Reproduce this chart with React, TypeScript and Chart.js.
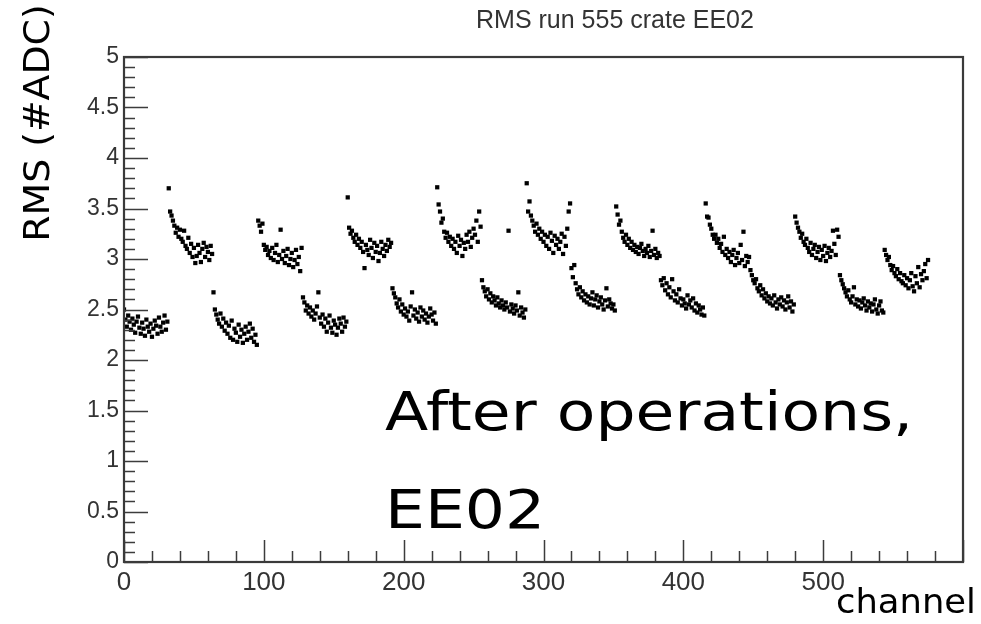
import React, { useEffect, useRef } from 'react';
import { Chart, registerables } from 'chart.js';

Chart.register(...registerables);

// RMS per channel, one array per 32-channel block (channels 0..575)
const g00 = [2.50, 2.40, 2.33, 2.44, 2.38, 2.30, 2.41, 2.35, 2.27, 2.38, 2.43, 2.32, 2.26, 2.37, 2.31, 2.24, 2.40, 2.33, 2.28, 2.36, 2.23, 2.31, 2.39, 2.34, 2.26, 2.42, 2.33, 2.28, 2.37, 2.44, 2.30, 2.38];
const g01 = [3.70, 3.47, 3.43, 3.38, 3.33, 3.26, 3.31, 3.22, 3.29, 3.20, 3.17, 3.28, 3.13, 3.10, 3.21, 3.06, 3.15, 3.02, 3.11, 2.96, 3.03, 3.14, 3.06, 2.97, 3.10, 3.16, 3.02, 3.12, 3.07, 2.99, 3.13, 3.05];
const g02 = [2.67, 2.50, 2.45, 2.40, 2.36, 2.46, 2.33, 2.41, 2.29, 2.37, 2.26, 2.34, 2.22, 2.39, 2.20, 2.31, 2.27, 2.18, 2.35, 2.23, 2.30, 2.17, 2.26, 2.33, 2.20, 2.28, 2.36, 2.22, 2.31, 2.18, 2.25, 2.15];
const g03 = [3.38, 3.33, 3.27, 3.35, 3.14, 3.09, 3.12, 3.04, 3.08, 3.01, 3.11, 2.99, 3.06, 3.14, 2.97, 3.04, 3.29, 3.00, 3.08, 2.96, 3.03, 3.10, 2.94, 3.00, 3.06, 2.92, 2.99, 3.09, 2.95, 3.02, 2.88, 3.11];
const g04 = [2.62, 2.57, 2.49, 2.54, 2.46, 2.52, 2.43, 2.49, 2.40, 2.46, 2.53, 2.67, 2.42, 2.36, 2.45, 2.33, 2.41, 2.28, 2.37, 2.44, 2.32, 2.27, 2.39, 2.35, 2.25, 2.32, 2.41, 2.36, 2.28, 2.42, 2.33, 2.38];
const g05 = [3.61, 3.31, 3.25, 3.28, 3.21, 3.17, 3.24, 3.14, 3.20, 3.11, 3.17, 3.07, 2.91, 3.14, 3.09, 3.04, 3.19, 3.11, 3.01, 3.16, 3.07, 3.13, 2.98, 3.06, 3.17, 3.10, 3.03, 3.14, 3.08, 3.19, 3.12, 3.16];
const g06 = [2.71, 2.66, 2.62, 2.56, 2.52, 2.60, 2.48, 2.55, 2.45, 2.51, 2.43, 2.48, 2.39, 2.53, 2.67, 2.44, 2.50, 2.41, 2.47, 2.38, 2.52, 2.43, 2.49, 2.40, 2.46, 2.37, 2.43, 2.51, 2.45, 2.39, 2.47, 2.36];
const g07 = [3.71, 3.54, 3.47, 3.36, 3.40, 3.27, 3.21, 3.26, 3.17, 3.22, 3.13, 3.20, 3.10, 3.17, 3.06, 3.23, 3.13, 3.19, 3.03, 3.16, 3.10, 3.24, 3.17, 3.27, 3.12, 3.21, 3.30, 3.24, 3.38, 3.17, 3.47, 3.32];
const g08 = [2.79, 2.72, 2.68, 2.63, 2.70, 2.60, 2.66, 2.57, 2.63, 2.59, 2.54, 2.62, 2.56, 2.52, 2.59, 2.54, 2.50, 2.57, 2.52, 3.28, 2.48, 2.55, 2.51, 2.46, 2.54, 2.49, 2.67, 2.44, 2.52, 2.47, 2.42, 2.50];
const g09 = [3.75, 3.47, 3.57, 3.43, 3.38, 3.33, 3.27, 3.35, 3.24, 3.30, 3.20, 3.27, 3.17, 3.24, 3.13, 3.22, 3.10, 3.26, 3.18, 3.06, 3.23, 3.14, 3.20, 3.10, 3.17, 3.25, 3.05, 3.22, 3.13, 3.30, 3.47, 3.55];
const g10 = [2.91, 2.82, 2.94, 2.76, 2.70, 2.65, 2.72, 2.62, 2.68, 2.59, 2.65, 2.57, 2.63, 2.55, 2.61, 2.67, 2.54, 2.60, 2.64, 2.52, 2.58, 2.62, 2.55, 2.50, 2.59, 2.71, 2.53, 2.60, 2.56, 2.51, 2.55, 2.49];
const g11 = [3.52, 3.44, 3.34, 3.38, 3.27, 3.21, 3.17, 3.24, 3.14, 3.20, 3.11, 3.17, 3.09, 3.14, 3.07, 3.12, 3.05, 3.11, 3.15, 3.08, 3.03, 3.10, 3.06, 3.13, 3.02, 3.08, 3.28, 3.04, 3.10, 3.01, 3.06, 3.03];
const g12 = [2.79, 2.74, 2.81, 2.69, 2.76, 2.65, 2.72, 2.62, 2.80, 2.68, 2.59, 2.65, 2.57, 2.70, 2.61, 2.54, 2.60, 2.56, 2.51, 2.64, 2.55, 2.59, 2.52, 2.61, 2.49, 2.56, 2.47, 2.54, 2.50, 2.45, 2.52, 2.44];
const g13 = [3.55, 3.42, 3.41, 3.34, 3.30, 3.24, 3.20, 3.24, 3.16, 3.20, 3.11, 3.15, 3.07, 3.22, 3.04, 3.10, 3.01, 3.07, 2.97, 3.04, 3.09, 2.94, 3.01, 3.06, 2.96, 3.14, 2.99, 3.27, 2.93, 3.03, 2.97, 3.02];
const g14 = [2.89, 2.84, 2.79, 2.76, 2.80, 2.71, 2.68, 2.74, 2.64, 2.70, 2.61, 2.66, 2.58, 2.63, 2.56, 2.61, 2.54, 2.64, 2.57, 2.51, 2.60, 2.55, 2.62, 2.53, 2.59, 2.50, 2.57, 2.63, 2.52, 2.58, 2.48, 2.55];
const g15 = [3.42, 3.36, 3.31, 3.27, 3.21, 3.25, 3.17, 3.14, 3.20, 3.11, 3.07, 3.16, 3.04, 3.10, 3.14, 3.01, 3.07, 3.12, 2.99, 3.09, 3.03, 3.13, 2.98, 3.06, 3.11, 3.02, 3.08, 3.28, 3.15, 3.04, 3.29, 3.22];
const g16 = [2.84, 2.79, 2.75, 2.71, 2.67, 2.63, 2.69, 2.60, 2.57, 2.63, 2.72, 2.55, 2.60, 2.53, 2.59, 2.51, 2.57, 2.61, 2.54, 2.49, 2.58, 2.52, 2.56, 2.48, 2.55, 2.60, 2.50, 2.46, 2.54, 2.58, 2.49, 2.47];
const g17 = [3.09, 3.04, 2.99, 3.02, 2.94, 2.89, 2.93, 2.86, 2.83, 2.90, 2.80, 2.86, 2.78, 2.76, 2.84, 2.74, 2.81, 2.71, 2.79, 2.86, 2.73, 2.68, 2.83, 2.76, 2.92, 2.72, 2.85, 2.79, 2.88, 2.95, 2.81, 2.99];

const blocks = [g00, g01, g02, g03, g04, g05, g06, g07, g08, g09, g10, g11, g12, g13, g14, g15, g16, g17];

const xTickLabels = ['0', '100', '200', '300', '400', '500'];
const yTickLabels = ['0', '0.5', '1', '1.5', '2', '2.5', '3', '3.5', '4', '4.5', '5'];

const titleText = 'RMS run 555 crate EE02';
const yTitleText = 'RMS (#ADC)';
const xTitleText = 'channel';
const noteLines = ['After operations,', 'EE02'];

const X_MIN = 0;
const X_MAX = 600;
const Y_MIN = 0;
const Y_MAX = 5;

const W = 981;
const H = 624;

const handFont = '"DejaVu Sans", "Noto Sans", sans-serif';
const axisFont = '"Liberation Sans", Arial, sans-serif';

function stretchedText(ctx: any, text: string, x: number, y: number, sx: number) {
  ctx.save();
  ctx.translate(x, y);
  ctx.scale(sx, 1);
  ctx.fillText(text, 0, 0);
  ctx.restore();
}

const rootFrame = {
  id: 'rootFrame',
  afterDraw(chart: any) {
    const { ctx, chartArea: a, scales } = chart;
    const xs = scales.x;
    const ys = scales.y;
    ctx.save();
    // ticks
    ctx.strokeStyle = '#3c3c3c';
    ctx.lineWidth = 1.5;
    ctx.beginPath();
    for (let i = 0; i <= 50; i++) {
      const v = Y_MIN + i * 0.1;
      const py = Math.round(ys.getPixelForValue(v)) + 0.5;
      const len = i % 5 === 0 ? 24 : 11;
      ctx.moveTo(a.left, py);
      ctx.lineTo(a.left + len, py);
    }
    for (let c = X_MIN; c <= X_MAX; c += 20) {
      const px = Math.round(xs.getPixelForValue(c)) + 0.5;
      const len = c % 100 === 0 ? 22 : 11;
      ctx.moveTo(px, a.bottom);
      ctx.lineTo(px, a.bottom - len);
    }
    ctx.stroke();
    // frame
    ctx.lineWidth = 2.2;
    ctx.strokeStyle = '#3a3a3a';
    ctx.strokeRect(a.left, a.top, a.right - a.left, a.bottom - a.top);

    // title
    ctx.fillStyle = '#333';
    ctx.font = '25px ' + axisFont;
    ctx.textAlign = 'left';
    ctx.textBaseline = 'alphabetic';
    stretchedText(ctx, titleText, 476, 28, 1.0);

    // y title (rotated)
    ctx.save();
    ctx.translate(49, 123);
    ctx.rotate(-Math.PI / 2);
    ctx.scale(1.08, 1);
    ctx.fillStyle = '#000';
    ctx.font = '35px ' + handFont;
    ctx.textAlign = 'center';
    ctx.fillText(yTitleText, 0, 0);
    ctx.restore();

    // x title
    ctx.fillStyle = '#000';
    ctx.font = '34px ' + handFont;
    ctx.textAlign = 'left';
    stretchedText(ctx, xTitleText, 836, 613, 1.04);

    // annotation
    ctx.font = '54px ' + handFont;
    ctx.textAlign = 'left';
    stretchedText(ctx, noteLines[0], 385, 430, 1.17);
    stretchedText(ctx, noteLines[1], 385, 528, 1.17);
    ctx.restore();
  },
};

export default function App() {
  const ref = useRef<HTMLCanvasElement | null>(null);
  useEffect(() => {
    document.body.style.margin = '0';
    const canvas = ref.current;
    if (!canvas) return;
    const points: { x: number; y: number }[] = [];
    blocks.forEach((b, bi) => b.forEach((v, i) => points.push({ x: bi * b.length + i, y: v })));
    const chart = new Chart(canvas, {
      type: 'scatter',
      data: {
        datasets: [
          {
            data: points,
            pointStyle: 'rect',
            pointRadius: 3.0,
            pointBorderWidth: 0,
            backgroundColor: '#000',
            borderColor: '#000',
          },
        ],
      },
      options: {
        responsive: false,
        animation: false,
        events: [],
        layout: { padding: { top: 57, right: 18, left: 0, bottom: 0 } },
        plugins: { legend: { display: false }, tooltip: { enabled: false }, title: { display: false } },
        scales: {
          x: {
            type: 'linear',
            min: X_MIN,
            max: X_MAX,
            grid: { display: false, drawTicks: false, tickLength: 0 },
            border: { display: false },
            ticks: {
              stepSize: 100,
              padding: 5,
              color: '#333',
              font: { family: axisFont, size: 26 },
              maxRotation: 0,
              autoSkip: false,
              callback: (v: any) => (xTickLabels.includes(String(v)) ? String(v) : ''),
            },
            afterFit: (s: any) => {
              s.height = 62;
            },
          },
          y: {
            type: 'linear',
            min: Y_MIN,
            max: Y_MAX,
            grid: { display: false, drawTicks: false, tickLength: 0 },
            border: { display: false },
            ticks: {
              stepSize: 0.5,
              padding: 5,
              color: '#333',
              font: { family: axisFont, size: 23 },
              autoSkip: false,
              callback: (v: any) => (yTickLabels.includes(String(v)) ? String(v) : ''),
            },
            afterFit: (s: any) => {
              s.width = 124;
            },
          },
        },
      },
      plugins: [rootFrame],
    });
    return () => chart.destroy();
  }, []);
  return (
    <div style={{ position: 'absolute', left: 0, top: 0, width: W, height: H, background: '#fff' }}>
      <canvas ref={ref} width={W} height={H} style={{ display: 'block' }} />
    </div>
  );
}
